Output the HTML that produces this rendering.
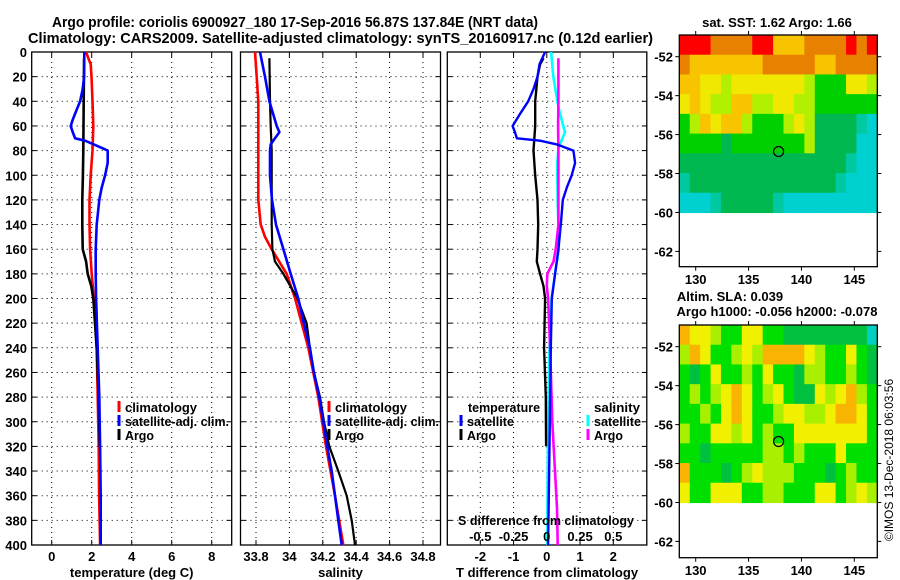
<!DOCTYPE html>
<html><head><meta charset="utf-8">
<style>
html,body{margin:0;padding:0;background:#fff;}
svg{display:block;font-family:"Liberation Sans",sans-serif;font-weight:bold;}
</style></head>
<body>
<svg id="chart" width="900" height="580" viewBox="0 0 900 580" xmlns="http://www.w3.org/2000/svg">
<text x="52" y="27" font-size="15" textLength="486" lengthAdjust="spacingAndGlyphs">Argo profile: coriolis 6900927_180 17-Sep-2016 56.87S 137.84E (NRT data)</text>
<text x="28" y="43" font-size="15" textLength="625" lengthAdjust="spacingAndGlyphs">Climatology: CARS2009. Satellite-adjusted climatology: synTS_20160917.nc (0.12d earlier)</text>
<g id="plots"></g>
<text x="777" y="27" font-size="13" text-anchor="middle">sat. SST: 1.62 Argo: 1.66</text>
<text x="730" y="301" font-size="13" text-anchor="middle">Altim. SLA: 0.039</text>
<text x="777" y="316" font-size="13" text-anchor="middle">Argo h1000: -0.056 h2000: -0.078</text>
<text transform="translate(893,460) rotate(-90)" font-size="12" font-weight="normal" text-anchor="middle">©IMOS 13-Dec-2018 06:03:56</text>
</svg>
<script>
// ---- data ----
const depthTicks = [0,20,40,60,80,100,120,140,160,180,200,220,240,260,280,300,320,340,360,380,400];
const tempTicks = [0,2,4,6,8];
const salTicks = [33.8,34,34.2,34.4,34.6,34.8];
const salTickLabels = ["33.8","34","34.2","34.4","34.6","34.8"];
const tdiffTicks = [-2,-1,0,1,2];
const sdiffTicks = [-0.5,-0.25,0,0.25,0.5];
const sdiffTickLabels = ["-0.5","-0.25","0","0.25","0.5"];

const tClimDepth = [0,5,10,20,40,60,80,100,120,140,160,180,200,240,280,320,360,400];
const tClim = [1.72,1.83,1.95,1.99,2.04,2.08,2.04,1.95,1.89,1.89,1.92,2.0,2.11,2.25,2.3,2.35,2.37,2.42];
const tSatDepth = [0,20,30,40,50,55,60,65,70,72,76,80,90,100,110,120,140,160,180,200,240,280,320,360,400];
const tSat = [1.63,1.62,1.55,1.42,1.17,1.05,0.95,1.05,1.17,1.67,2.25,2.8,2.8,2.67,2.5,2.38,2.25,2.2,2.2,2.22,2.3,2.38,2.42,2.45,2.45];
const tArgoDepth = [5,40,80,100,120,140,160,170,180,190,200,240,280,320];
const tArgo = [1.62,1.6,1.58,1.56,1.53,1.53,1.55,1.72,1.8,1.98,2.08,2.25,2.35,2.4];

const sClimDepth = [0,20,40,80,120,140,150,160,180,200,240,280,320,360,400];
const sClim = [33.794,33.804,33.814,33.814,33.814,33.828,33.854,33.894,33.984,34.034,34.113,34.173,34.219,34.273,34.323];
const sSatDepth = [0,20,40,60,65,70,75,80,100,120,140,160,180,200,220,240,260,280,300,320,340,360,380,400];
const sSat = [33.824,33.854,33.880,33.924,33.940,33.914,33.888,33.884,33.884,33.896,33.920,33.964,34.008,34.053,34.087,34.123,34.147,34.179,34.203,34.227,34.253,34.273,34.293,34.313];
const sArgoDepth = [5,40,60,80,100,140,160,170,180,200,220,240,260,280,300,320,340,360,380,400];
const sArgo = [33.880,33.884,33.888,33.894,33.894,33.894,33.898,33.914,33.964,34.048,34.103,34.123,34.147,34.183,34.207,34.239,34.293,34.343,34.373,34.393];

const dtSatDepth = [0,10,20,30,40,50,60,65,70,72,75,80,90,100,110,120,140,160,180,200,240,280,320,360,400];
const dtSat = [-0.05,-0.22,-0.28,-0.4,-0.56,-0.8,-1.03,-0.96,-0.9,-0.2,0.3,0.8,0.85,0.75,0.6,0.48,0.42,0.35,0.25,0.15,0.12,0.1,0.08,0.06,0.04];
const dtArgoDepth = [5,10,20,40,60,80,100,120,140,160,170,180,190,200,240,280,320];
const dtArgo = [-0.1,-0.2,-0.28,-0.35,-0.35,-0.4,-0.35,-0.28,-0.26,-0.28,-0.3,-0.2,-0.1,-0.05,-0.08,-0.03,-0.02];
const dsSatDepth = [0,20,40,50,60,65,72,78,90,100,120,140,160,180,200,240,300,350,400];
const dsSat = [0.032,0.049,0.079,0.099,0.124,0.137,0.11,0.087,0.079,0.079,0.081,0.087,0.09,0.062,0.035,0.02,0.01,0.006,0.004];
const dsArgoDepth = [5,20,40,60,80,100,140,160,170,180,190,200,240,300,340,370,400];
const dsArgo = [0.087,0.087,0.087,0.085,0.087,0.087,0.087,0.067,0.05,0.004,0.0,0.01,0.025,0.041,0.062,0.077,0.082];

const mapLonTicks = [130,135,140,145];
const mapLatTicks = [-52,-54,-56,-58,-60,-62];
const argoLon = 137.84, argoLat = -56.87;
const sstGrid = [
"RRROOOORRYYYOOOOROR",
"OYYYYYYYOOOOOYYOOOO",
"YYyyLyyyyyyyLGGGyyL",
"yYyLLYYLLyyLLGGGGGG",
"GLYyYYLGGGLyLDDDDCT",
"GGGGDGGGGGGGLDDDDTT",
"DDDDDDDDDDDDDDDDCTT",
"CDDDDDDDDDDDDDDCTTT",
"TTTCDDDDDCTTTTTTTTT"];
const slaGrid = [
"OYYLGGYYGGDDDDDDDDT",
"LOYGGLYLOOOOYLGGYGD",
"GDGYGGLGYGGDLLGGLGD",
"GLGLYOYGLYGDDYLYOLG",
"GGLGYOYGGLYYLLYOOYG",
"LGGYYLYGLGGYYYYYYYG",
"GGDGGGGGLLGLGGGYGGG",
"OGGGDGLYLLLGGGDGLGG",
"YGGYYYGGLLGGGYYGLYL"];

// ---- drawing ----
const NS="http://www.w3.org/2000/svg";
const root=document.getElementById('plots');
function mk(tag,attrs,parent){const e=document.createElementNS(NS,tag);for(const k in attrs)e.setAttribute(k,attrs[k]);(parent||root).appendChild(e);return e;}
const yTop=52,yBot=545;
function yD(d){return yTop+(yBot-yTop)*d/400;}
function lin(a,b,p,q){return v=>p+(v-a)*(q-p)/(b-a);}

function panel(name,x0,x1,xs,xticks,xlabels,title){
  const g=mk('g',{});
  
  
  xticks.forEach(t=>{const x=xs(t);
    const l=mk('line',{x1:x,x2:x,y1:yTop,y2:yBot,stroke:'#000','stroke-width':1,'stroke-dasharray':'1,4'},g);
    
    mk('line',{x1:x,x2:x,y1:yBot,y2:yBot-5,stroke:'#000'},g);
    mk('line',{x1:x,x2:x,y1:yTop,y2:yTop+5,stroke:'#000'},g);
  });
  depthTicks.forEach(d=>{const y=yD(d);
    if(d>0&&d<400){const l=mk('line',{x1:x0,x2:x1,y1:y,y2:y,stroke:'#000','stroke-width':1,'stroke-dasharray':'1,4'},g);
    }
    mk('line',{x1:x0,x2:x0+5,y1:y,y2:y,stroke:'#000'},g);
    mk('line',{x1:x1,x2:x1-5,y1:y,y2:y,stroke:'#000'},g);
  });
  const f=mk('rect',{x:x0,y:yTop,width:x1-x0,height:yBot-yTop,fill:'none',stroke:'#000','stroke-width':1.3},g);
  
  xticks.forEach((t,i)=>{const tx=mk('text',{x:xs(t),y:561,'font-size':13,'text-anchor':'middle'},g);tx.textContent=xlabels[i];
    });
  const tt=mk('text',{x:(x0+x1)/2,y:577,'font-size':13,'text-anchor':'middle'},g);tt.textContent=title;
  
  return g;
}
function series(g,name,depths,vals,xs,color,w){
  const pts=depths.map((d,i)=>xs(vals[i]).toFixed(1)+','+yD(d).toFixed(1)).join(' ');
  const p=mk('polyline',{points:pts,fill:'none',stroke:color,'stroke-width':w,'stroke-linejoin':'round'},g);
  
  
}
function legend(g,x,y,color,label,name,len){
  mk('line',{x1:x,x2:x,y1:y-6,y2:y+5,stroke:color,'stroke-width':3},g);
  const a={x:x+6,y:y+5,'font-size':13};
  if(len){a.textLength=len;a.lengthAdjust='spacingAndGlyphs';}
  const t=mk('text',a,g);t.textContent=label;
  
  
}

// y tick labels
depthTicks.forEach(d=>{const t=mk('text',{x:27,y:yD(d)+5,'font-size':13,'text-anchor':'end'});t.textContent=d;
  
  });

// panel 1: temperature
const xT=lin(-1,9,31.7,231.7);
const g1=panel('temperature-panel',31.7,231.7,xT,tempTicks,tempTicks.map(String),'temperature (deg C)');
series(g1,'temp-climatology-line',tClimDepth,tClim,xT,'#ff0000',2.6);
series(g1,'temp-argo-line',tArgoDepth,tArgo,xT,'#000',2.6);
series(g1,'temp-satellite-line',tSatDepth,tSat,xT,'#0000ff',2.6);
legend(g1,119,407,'#f00','climatology','legend-climatology',72);
legend(g1,119,421,'#00f','satellite-adj. clim.','legend-satellite',104);
legend(g1,119,435,'#000','Argo','legend-argo',29);

// panel 2: salinity
const xS=lin(33.8,34.8,256,423);
const g2=panel('salinity-panel',240.5,440.5,xS,salTicks,salTickLabels,'salinity');
series(g2,'sal-climatology-line',sClimDepth,sClim,xS,'#ff0000',2.6);
series(g2,'sal-argo-line',sArgoDepth,sArgo,xS,'#000',2.2);
series(g2,'sal-satellite-line',sSatDepth,sSat,xS,'#0000ff',2.6);
legend(g2,329,407,'#f00','climatology','legend-climatology',72);
legend(g2,329,421,'#00f','satellite-adj. clim.','legend-satellite',104);
legend(g2,329,435,'#000','Argo','legend-argo',29);

// panel 3: differences
const xDT=lin(-2,2,480.3,613.3);
const xDS=lin(-0.5,0.5,480.3,613.3);
const g3=panel('difference-panel',447.3,646.8,xDT,tdiffTicks,tdiffTicks.map(String),'T difference from climatology');
series(g3,'s-diff-satellite-line',dsSatDepth,dsSat,xDS,'#00ffff',2.6);
series(g3,'s-diff-argo-line',dsArgoDepth,dsArgo,xDS,'#ff00ff',2.6);
series(g3,'t-diff-argo-line',dtArgoDepth,dtArgo,xDT,'#000',2.4);
series(g3,'t-diff-satellite-line',dtSatDepth,dtSat,xDT,'#0000ff',2.4);
{const t=mk('text',{x:468,y:412,'font-size':13,textLength:72,lengthAdjust:'spacingAndGlyphs'},g3);t.textContent='temperature';

const t2=mk('text',{x:594,y:412,'font-size':13,textLength:46,lengthAdjust:'spacingAndGlyphs'},g3);t2.textContent='salinity';
}
legend(g3,461,421,'#00f','satellite','legend-t-satellite',47);
legend(g3,461,435,'#000','Argo','legend-t-argo',29);
legend(g3,588,421,'#0ff','satellite','legend-s-satellite',47);
legend(g3,588,435,'#f0f','Argo','legend-s-argo',29);
{const t=mk('text',{x:458,y:525,'font-size':13,textLength:176,lengthAdjust:'spacingAndGlyphs'},g3);t.textContent='S difference from climatology';
}
sdiffTicks.forEach((s,i)=>{const t=mk('text',{x:xDS(s),y:541,'font-size':13,'text-anchor':'middle'},g3);t.textContent=sdiffTickLabels[i];
  
  });

// maps
const cTop={R:'#ff0000',O:'#e88000',Y:'#f8c400',y:'#f0e800',L:'#b0f000',G:'#00d000',D:'#00b850',C:'#00c8a0',T:'#00d0d0'};
const cBot={O:'#f8b400',Y:'#f0f000',L:'#a8f000',G:'#00e000',D:'#00c040',T:'#00d0c0'};
function map(name,y0,y1,grid,cols,lonLabelY){
  const x0=679.3,x1=877.3;
  const lx=lin(130,145,695.7,854.3);
  const ly=lin(-52,-62,y0+21.7,y0+21.7+194.7);
  const g=mk('g',{});
  
  
  const yData=ly(-60);
  const nr=grid.length,nc=grid[0].length;
  const cw=(x1-x0)/nc,ch=(yData-y0)/nr;
  grid.forEach((row,r)=>{for(let c=0;c<nc;c++){
    mk('rect',{x:(x0+c*cw).toFixed(2),y:(y0+r*ch).toFixed(2),width:(cw+0.6).toFixed(2),height:(ch+0.6).toFixed(2),fill:cols[row[c]]},g);
  }});
  const f=mk('rect',{x:x0,y:y0,width:x1-x0,height:y1-y0,fill:'none',stroke:'#000','stroke-width':1.3},g);
  
  mapLonTicks.forEach(l=>{const x=lx(l);
    mk('line',{x1:x,x2:x,y1:y0,y2:y0-4,stroke:'#000'},g);
    mk('line',{x1:x,x2:x,y1:y1,y2:y1+4,stroke:'#000'},g);
    const t=mk('text',{x:x,y:lonLabelY,'font-size':13,'text-anchor':'middle'},g);t.textContent=l;
    });
  mapLatTicks.forEach(l=>{const y=ly(l);
    mk('line',{x1:x0,x2:x0-4,y1:y,y2:y,stroke:'#000'},g);
    mk('line',{x1:x1,x2:x1+4,y1:y,y2:y,stroke:'#000'},g);
    const t=mk('text',{x:673,y:y+5,'font-size':13,'text-anchor':'end'},g);t.textContent=l;
    });
  const c=mk('circle',{cx:lx(argoLon),cy:ly(argoLat),r:5,fill:'none',stroke:'#000','stroke-width':1.2},g);
  
  
}
map('sst-map',35,266.7,sstGrid,cTop,284);
map('sla-map',325,557.7,slaGrid,cBot,575);
</script>
</body></html>
